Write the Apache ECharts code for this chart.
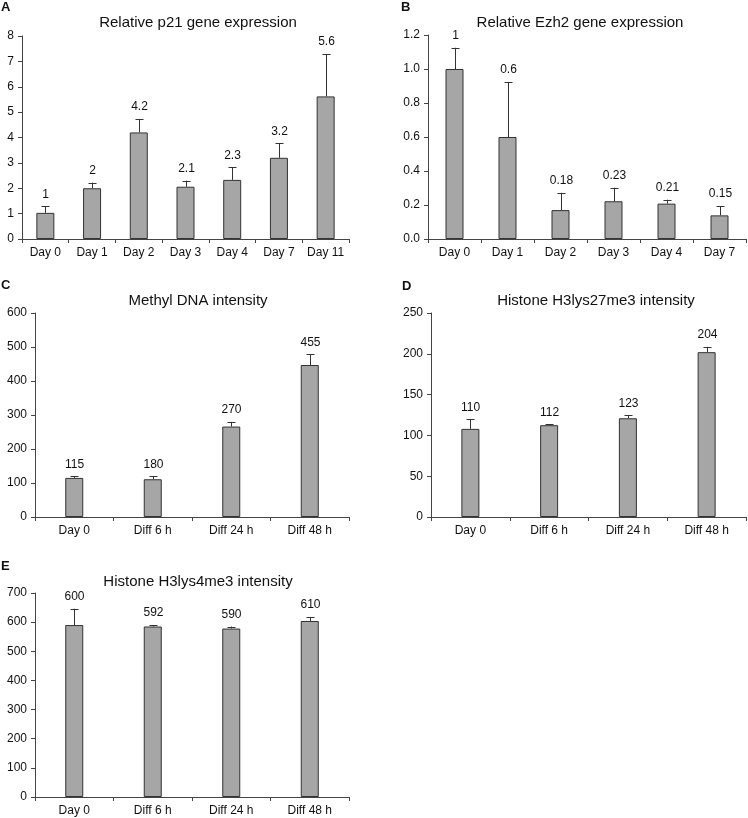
<!DOCTYPE html>
<html><head><meta charset="utf-8">
<script src="https://cdn.jsdelivr.net/npm/echarts@6/dist/echarts.min.js"></script>
<style>html,body{margin:0;padding:0;background:#fff}#c{width:748px;height:818px}</style>
</head><body><div id="c"></div>
<script>
// Panel A
const aTitle = 'Relative p21 gene expression';
const aCats = ['Day 0','Day 1','Day 2','Day 3','Day 4','Day 7','Day 11'];
const aValues = [1.03, 2.0, 4.2, 2.06, 2.33, 3.2, 5.62];
const aErrors = [0.26, 0.22, 0.53, 0.24, 0.5, 0.57, 1.67];
const aLabels = ['1','2','4.2','2.1','2.3','3.2','5.6'];
// Panel B
const bTitle = 'Relative Ezh2 gene expression';
const bCats = ['Day 0','Day 1','Day 2','Day 3','Day 4','Day 7'];
const bValues = [1.0, 0.6, 0.17, 0.222, 0.208, 0.139];
const bErrors = [0.125, 0.324, 0.102, 0.08, 0.023, 0.055];
const bLabels = ['1','0.6','0.18','0.23','0.21','0.15'];
// Panel C
const cTitle = 'Methyl DNA intensity';
const cCats = ['Day 0','Diff 6 h','Diff 24 h','Diff 48 h'];
const cValues = [115, 111, 266, 447];
const cErrors = [5, 9, 14, 31];
const cLabels = ['115','180','270','455'];
// Panel D
const dTitle = 'Histone H3lys27me3 intensity';
const dCats = ['Day 0','Diff 6 h','Diff 24 h','Diff 48 h'];
const dValues = [108, 112.5, 121, 202];
const dErrors = [11.5, 1, 3.5, 6.5];
const dLabels = ['110','112','123','204'];
// Panel E
const eTitle = 'Histone H3lys4me3 intensity';
const eCats = ['Day 0','Diff 6 h','Diff 24 h','Diff 48 h'];
const eValues = [590, 585, 578, 604];
const eErrors = [56, 5, 7, 14];
const eLabels = ['600','592','590','610'];

const panels = [
  {letter:'A', title:aTitle, cats:aCats, vals:aValues, errs:aErrors, labels:aLabels, max:8, interval:1, dec:0,
   grid:{left:22, top:36, width:327, height:203}, tx:198, ty:15, lx:1, ly:1},
  {letter:'B', title:bTitle, cats:bCats, vals:bValues, errs:bErrors, labels:bLabels, max:1.2, interval:0.2, dec:1,
   grid:{left:428, top:35, width:318, height:204}, tx:580, ty:15, lx:401, ly:1},
  {letter:'C', title:cTitle, cats:cCats, vals:cValues, errs:cErrors, labels:cLabels, max:600, interval:100, dec:0,
   grid:{left:35, top:313, width:314, height:204}, tx:198, ty:293, lx:1, ly:279},
  {letter:'D', title:dTitle, cats:dCats, vals:dValues, errs:dErrors, labels:dLabels, max:250, interval:50, dec:0,
   grid:{left:431, top:313, width:315, height:204}, tx:596, ty:293, lx:402, ly:280},
  {letter:'E', title:eTitle, cats:eCats, vals:eValues, errs:eErrors, labels:eLabels, max:700, interval:100, dec:0,
   grid:{left:35, top:593, width:314, height:204}, tx:198, ty:574, lx:1, ly:560}
];

const FONT = 'Liberation Sans, Arial, sans-serif';
const axisColor = '#444';
const option = {
  animation:false,
  textStyle:{fontFamily:FONT},
  title:[], grid:[], xAxis:[], yAxis:[], series:[]
};
panels.forEach((p,i)=>{
  option.title.push({text:p.title, left:p.tx, top:p.ty, textAlign:'center', padding:0,
    textStyle:{fontFamily:FONT, fontSize:15, fontWeight:'normal', color:'#111'}});
  option.title.push({text:p.letter, left:p.lx, top:p.ly, padding:0,
    textStyle:{fontFamily:FONT, fontSize:13, fontWeight:'bold', color:'#111'}});
  option.grid.push(Object.assign({containLabel:false}, p.grid));
  option.xAxis.push({type:'category', gridIndex:i, data:p.cats,
    axisLine:{lineStyle:{color:axisColor, width:1}},
    axisTick:{show:true, length:4, lineStyle:{color:axisColor}},
    axisLabel:{color:'#111', fontSize:12, fontFamily:FONT, margin:8, interval:0},
    splitLine:{show:false}});
  option.yAxis.push({type:'value', gridIndex:i, min:0, max:p.max, interval:p.interval,
    axisLine:{show:true, lineStyle:{color:axisColor, width:1}},
    axisTick:{show:true, length:4, lineStyle:{color:axisColor}},
    axisLabel:{color:'#111', fontSize:12, fontFamily:FONT, margin:8,
      formatter:v=>v.toFixed(p.dec)},
    splitLine:{show:false}});
  option.series.push({type:'bar', xAxisIndex:i, yAxisIndex:i, data:p.vals, barWidth:18,
    itemStyle:{color:'#a6a6a6', borderColor:'#333', borderWidth:1}});
  option.series.push({type:'custom', xAxisIndex:i, yAxisIndex:i,
    data:p.vals.map((v,k)=>[k, v, v+p.errs[k]]),
    z:3,
    renderItem:(params, api)=>{
      const k = api.value(0);
      const lo = api.coord([k, api.value(1)]);
      const hi = api.coord([k, api.value(2)]);
      const x = Math.round(lo[0]) + 0.5;
      const st = {stroke:'#333', lineWidth:1};
      return {type:'group', children:[
        {type:'line', shape:{x1:x, y1:lo[1], x2:x, y2:hi[1]}, style:st},
        {type:'line', shape:{x1:x-4, y1:Math.round(hi[1])+0.5, x2:x+4, y2:Math.round(hi[1])+0.5}, style:st},
        {type:'text', x:x, y:hi[1]-12, style:{text:p.labels[k], fill:'#111', font:'12px '+FONT,
          textAlign:'center', textVerticalAlign:'middle'}}
      ]};
    }});
});
const chart = echarts.init(document.getElementById('c'), null, {renderer:'canvas'});
chart.setOption(option);
</script>
</body></html>
